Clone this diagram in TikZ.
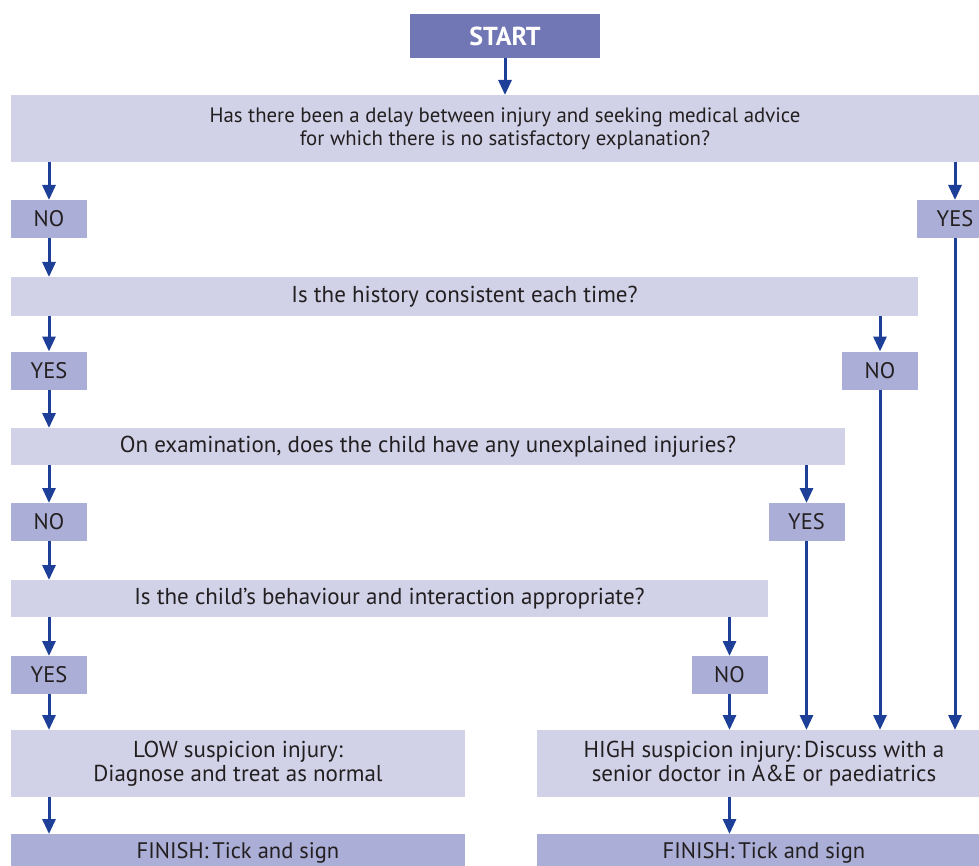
\documentclass[tikz,border=0pt]{standalone}
\usepackage{fontspec}
\setmainfont{PT Sans}
\usetikzlibrary{arrows.meta}
\definecolor{startc}{HTML}{7077B4}
\definecolor{lightc}{HTML}{D1D2E8}
\definecolor{midc}{HTML}{ABAED6}
\definecolor{arrowc}{HTML}{1E3F98}
\definecolor{txtc}{HTML}{231F20}
\tikzset{
  base/.style={inner sep=0pt, outer sep=0pt, align=center, text=txtc},
  qbox/.style={base, fill=lightc, font=\fontsize{23}{24}\selectfont},
  ansbox/.style={base, fill=midc, minimum width=76pt, minimum height=38pt, font=\fontsize{22.5}{24}\selectfont},
  startbox/.style={base, fill=startc, text=white, font=\bfseries\fontsize{26}{28}\selectfont},
  arr/.style={draw=arrowc, line width=3pt, -{Triangle[width=13pt,length=15pt]}}
}
\begin{document}
\begin{tikzpicture}[x=1pt,y=-1pt]
\useasboundingbox (0,0) rectangle (979,866);
% nodes
\node[startbox, minimum width=190pt, minimum height=44pt] (start) at (505,36) {START};
\node[qbox, minimum width=988pt, minimum height=67pt, font=\fontsize{20.8}{23}\selectfont] (q1) at (505,128.5) {Has there been a delay between injury and seeking medical advice\\for which there is no satisfactory explanation?};
\node[ansbox] (no1) at (49,219) {NO};
\node[ansbox] (yes1) at (955,219) {YES};
\node[qbox, minimum width=907pt, minimum height=39pt] (q2) at (464.5,296.5) {Is the history consistent each time?};
\node[ansbox] (yes2) at (49,370.5) {YES};
\node[ansbox] (no2) at (880,370.5) {NO};
\node[qbox, minimum width=834pt, minimum height=37pt] (q3) at (428,446.5) {On examination, does the child have any unexplained injuries?};
\node[ansbox] (no3) at (49,522) {NO};
\node[ansbox] (yes3) at (806.5,522) {YES};
\node[qbox, minimum width=757pt, minimum height=37pt] (q4) at (389.5,598.5) {Is the child’s behaviour and interaction appropriate?};
\node[ansbox] (yes4) at (49,675) {YES};
\node[ansbox] (no4) at (729.5,675) {NO};
\node[qbox, minimum width=454pt, minimum height=67pt] (low) at (238,763.5) {LOW suspicion injury:\\Diagnose and treat as normal};
\node[qbox, minimum width=454pt, minimum height=67pt] (high) at (764,763.5) {HIGH suspicion injury:\,Discuss with a\\senior doctor in A\&E or paediatrics};
\node[ansbox, minimum width=454pt, minimum height=38pt] (fin1) at (238,853) {FINISH:\,Tick and sign};
\node[ansbox, minimum width=454pt, minimum height=38pt] (fin2) at (764,853) {FINISH:\,Tick and sign};
% connectors
\draw[arr] (start.south) -- (start.south |- q1.north);
\draw[arr] (no1.north |- q1.south) -- (no1.north);
\draw[arr] (yes1.north |- q1.south) -- (yes1.north);
\draw[arr] (no1.south) -- (no1.south |- q2.north);
\draw[arr] (yes2.north |- q2.south) -- (yes2.north);
\draw[arr] (no2.north |- q2.south) -- (no2.north);
\draw[arr] (yes2.south) -- (yes2.south |- q3.north);
\draw[arr] (no3.north |- q3.south) -- (no3.north);
\draw[arr] (yes3.north |- q3.south) -- (yes3.north);
\draw[arr] (no3.south) -- (no3.south |- q4.north);
\draw[arr] (yes4.north |- q4.south) -- (yes4.north);
\draw[arr] (no4.north |- q4.south) -- (no4.north);
\draw[arr] (yes4.south) -- (yes4.south |- low.north);
\draw[arr] (no4.south) -- (no4.south |- high.north);
\draw[arr] (yes3.south) -- (yes3.south |- high.north);
\draw[arr] (no2.south) -- (no2.south |- high.north);
\draw[arr] (yes1.south) -- (yes1.south |- high.north);
\draw[arr] (low.south -| yes4.south) -- (fin1.north -| yes4.south);
\draw[arr] (high.south -| no4.south) -- (fin2.north -| no4.south);
\end{tikzpicture}
\end{document}
